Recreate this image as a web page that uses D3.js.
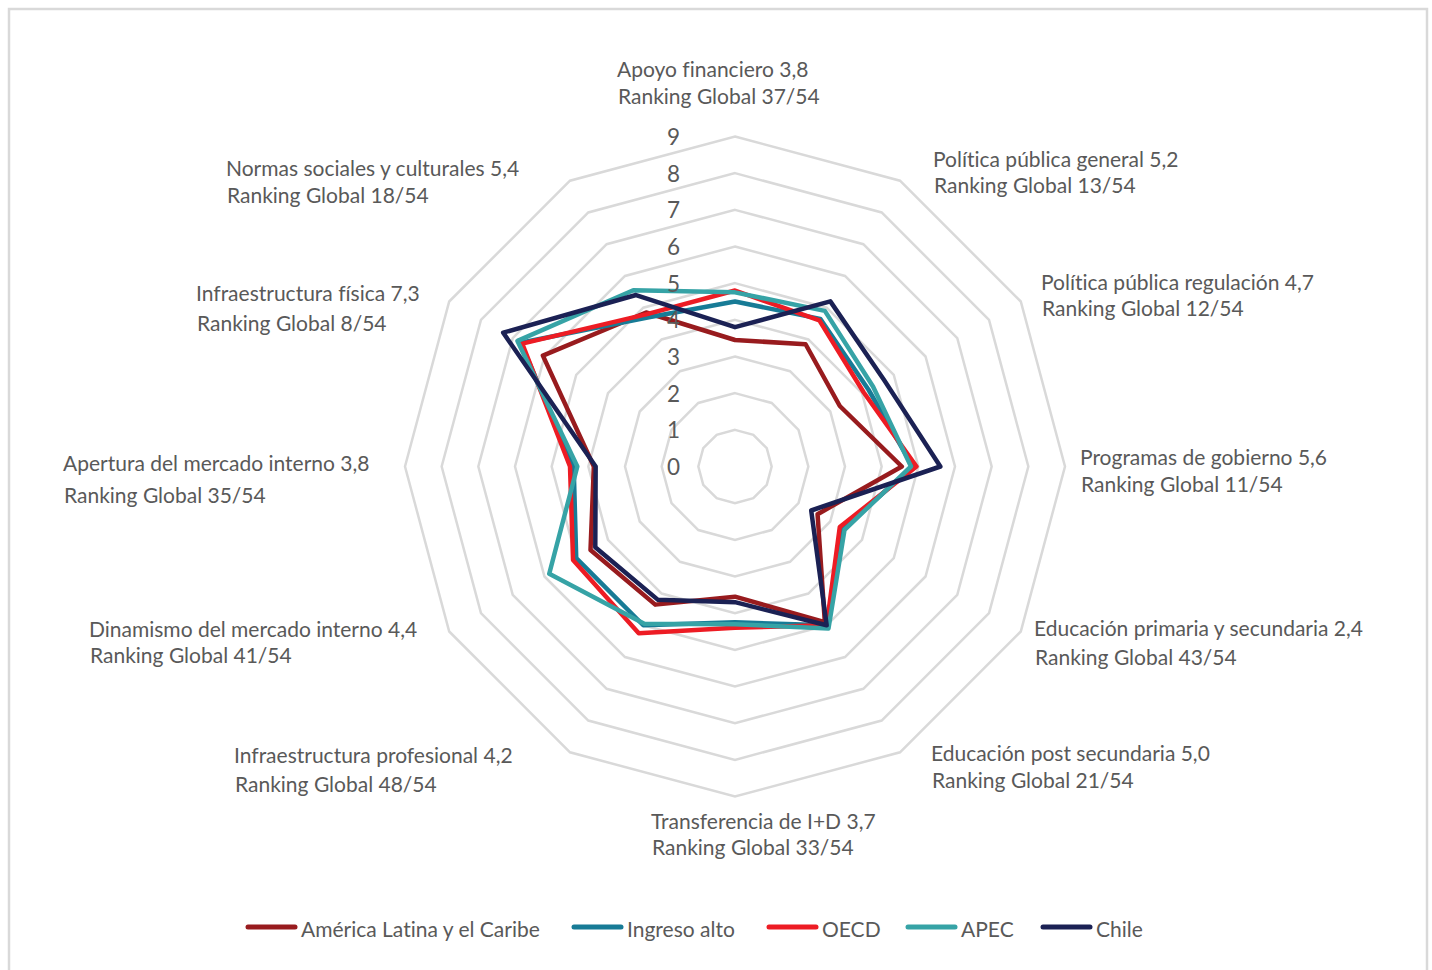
<!DOCTYPE html>
<html><head><meta charset="utf-8">
<script src="https://cdn.jsdelivr.net/npm/d3@7"></script>
<style>
body{margin:0;background:#fff}
svg{display:block}
text{font-family:Lato,"Open Sans",sans-serif;fill:#595959;font-variant-ligatures:no-common-ligatures}
</style>
</head><body><svg id="c" width="1432" height="970"></svg>
<script>
// ---------- data ----------
const categories = ["Apoyo financiero","Política pública general","Política pública regulación","Programas de gobierno","Educación primaria y secundaria","Educación post secundaria","Transferencia de I+D","Infraestructura profesional","Dinamismo del mercado interno","Apertura del mercado interno","Infraestructura física","Normas sociales y culturales"];
const rankings = ["37/54","13/54","12/54","11/54","43/54","21/54","33/54","48/54","41/54","35/54","8/54","18/54"];
const seriesNames = ["América Latina y el Caribe","Ingreso alto","OECD","APEC","Chile"];
const amLat       = [3.45,3.85,3.3,4.55,2.6,4.9,3.55,4.35,4.55,3.85,6.05,4.85];
const ingresoAlto = [4.5,4.65,4.2,4.85,3.4,5.0,4.25,5.0,5.0,4.4,6.75,4.7];
const oecd        = [4.8,4.6,4.05,4.95,3.3,5.0,4.4,5.25,5.1,4.5,6.7,4.8];
const apec        = [4.75,4.9,4.35,4.8,3.45,5.1,4.3,4.95,5.85,4.3,6.85,5.55];
const chile       = [3.8,5.2,4.7,5.6,2.4,5.0,3.7,4.2,4.4,3.8,7.3,5.4];
const tickValues  = [0,1,2,3,4,5,6,7,8,9];

// ---------- layout / style ----------
const colors = ["#981b1e","#177b96","#ed1c24","#36a3a6","#1b2154"];
const cx = 735, cy = 466.5, R = 330;
// label anchors: [left x, first line center y, second line center y]
const labelPos = [[617,68,95],[933,158,184],[1041,281,307],[1080,456,483],[1034,627,656],[931,752,779],[651,820,846],[234,754,783],[89,628,654],[63,462,494],[196,292,322],[226,167,194]];
const legendX = [246,572,767,906,1041];
const fontSize = "21px";

const svg = d3.select("#c");
svg.append("rect").attr("x",9).attr("y",9).attr("width",1418).attr("height",990)
  .attr("fill","#fff").attr("stroke","#d9d9d9").attr("stroke-width",2.5);

const r = d3.scaleLinear().domain([0,9]).range([0,R]);
const ang = d3.scaleLinear().domain([0,categories.length]).range([0,2*Math.PI]);
const g = svg.append("g").attr("transform",`translate(${cx},${cy})`);

const radial = d3.lineRadial().angle((d,i)=>ang(i)).radius(d=>r(d)).curve(d3.curveLinearClosed);

// grid rings
g.selectAll("path.ring").data(tickValues.filter(v=>v>0)).join("path")
  .attr("class","ring")
  .attr("d",v=>radial(categories.map(()=>v)))
  .attr("fill","none").attr("stroke","#d9d9d9").attr("stroke-width",2.5);

// series
const allSeries = [amLat,ingresoAlto,oecd,apec,chile];
g.selectAll("path.series").data(allSeries).join("path")
  .attr("class","series")
  .attr("d",d=>radial(d))
  .attr("fill","none").attr("stroke",(d,i)=>colors[i])
  .attr("stroke-width",4.5).attr("stroke-linejoin","round");

// tick labels
g.selectAll("text.tick").data(tickValues).join("text")
  .attr("class","tick")
  .attr("x",-55).attr("y",v=>-r(v))
  .attr("text-anchor","end").attr("dominant-baseline","central")
  .style("font-size","22.5px")
  .text(v=>v);

// category labels
const fmt = v=>d3.format(".1f")(v).replace(".",",");
categories.forEach((c,i)=>{
  const p = labelPos[i];
  svg.append("text").attr("x",p[0]).attr("y",p[1]).attr("dominant-baseline","central")
    .style("font-size",fontSize).text(`${c} ${fmt(chile[i])}`);
  svg.append("text").attr("x",p[0]+1).attr("y",p[2]).attr("dominant-baseline","central")
    .style("font-size",fontSize).text(`Ranking Global ${rankings[i]}`);
});

// legend
const lg = svg.append("g");
seriesNames.forEach((n,i)=>{
  const x = legendX[i];
  lg.append("line").attr("x1",x+2).attr("x2",x+49).attr("y1",927).attr("y2",927)
    .attr("stroke",colors[i]).attr("stroke-width",5).attr("stroke-linecap","round");
  lg.append("text").attr("x",x+55).attr("y",928).attr("dominant-baseline","central")
    .style("font-size",fontSize).text(n);
});
</script></body></html>
